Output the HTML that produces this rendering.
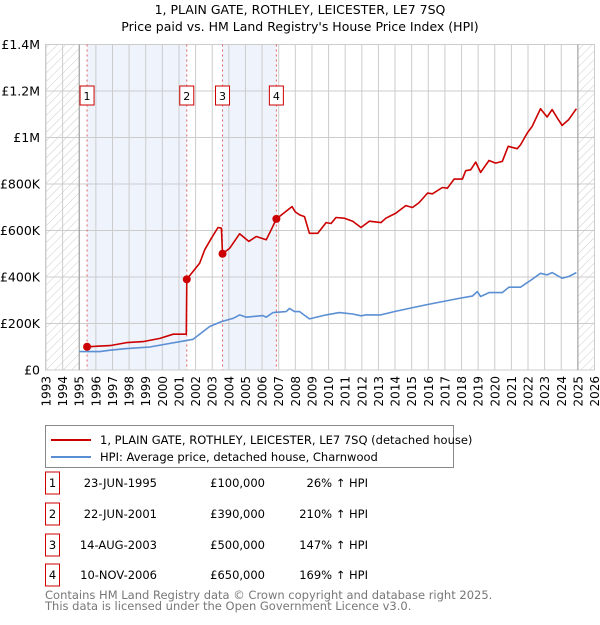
<!DOCTYPE html>
<html><head><meta charset="utf-8"><style>
body{margin:0;background:#fff;font-family:"Liberation Sans","DejaVu Sans",sans-serif;}
svg text{font-family:"DejaVu Sans","Liberation Sans",sans-serif;}
</style></head><body>
<svg id="c" width="600" height="620" xmlns="http://www.w3.org/2000/svg">
<defs><pattern id="hatch" width="6" height="6" patternUnits="userSpaceOnUse" patternTransform="rotate(45)"><line x1="0" y1="0" x2="0" y2="6" stroke="#ccc" stroke-width="1"/></pattern></defs>
<text x="300" y="14" text-anchor="middle" font-size="12.5">1, PLAIN GATE, ROTHLEY, LEICESTER, LE7 7SQ</text>
<text x="300" y="31" text-anchor="middle" font-size="12.5">Price paid vs. HM Land Registry's House Price Index (HPI)</text>
<g id="plot"></g>
<g>
<rect x="45.5" y="425.5" width="408" height="42" fill="#fff" stroke="#888"/>
<line x1="51" y1="440" x2="91" y2="440" stroke="#cc0000" stroke-width="2"/>
<text x="100" y="444" font-size="11.5">1, PLAIN GATE, ROTHLEY, LEICESTER, LE7 7SQ (detached house)</text>
<line x1="51" y1="457" x2="91" y2="457" stroke="#5b8fd4" stroke-width="2"/>
<text x="100" y="461" font-size="11.5">HPI: Average price, detached house, Charnwood</text>
</g>
<g id="tbl" font-size="11.5"></g>
<text x="45" y="599" font-size="11.5" fill="#777">Contains HM Land Registry data © Crown copyright and database right 2025.</text>
<text x="45" y="610" font-size="11.5" fill="#777">This data is licensed under the Open Government Licence v3.0.</text>
</svg>
<script>
const yearTicks=[1993,1994,1995,1996,1997,1998,1999,2000,2001,2002,2003,2004,2005,2006,2007,2008,2009,2010,2011,2012,2013,2014,2015,2016,2017,2018,2019,2020,2021,2022,2023,2024,2025,2026];
const valueTicks=[0,200000,400000,600000,800000,1000000,1200000,1400000];
const valueTickLabels=["£0","£200K","£400K","£600K","£800K","£1M","£1.2M","£1.4M"];
const saleYears=[1995.47,2001.47,2003.62,2006.86];
const salePrices=[100000,390000,500000,650000];
const saleDates=["23-JUN-1995","22-JUN-2001","14-AUG-2003","10-NOV-2006"];
const salePriceLabels=["£100,000","£390,000","£500,000","£650,000"];
const saleHpi=["26% ↑ HPI","210% ↑ HPI","147% ↑ HPI","169% ↑ HPI"];
const redYears=[1995.47,1996.24,1996.85,1997.85,1998.85,1999.85,2000.65,2001.44,2001.47,2002.25,2002.55,2002.95,2003.35,2003.55,2003.62,2004.05,2004.65,2005.2,2005.65,2006.25,2006.55,2006.86,2007.8,2008.0,2008.26,2008.55,2008.85,2009.35,2009.85,2010.15,2010.45,2010.95,2011.45,2011.95,2012.45,2013.15,2013.45,2014.05,2014.65,2015.05,2015.45,2015.95,2016.25,2016.85,2017.15,2017.55,2018.05,2018.25,2018.55,2018.85,2019.15,2019.65,2020.05,2020.45,2020.81,2021.35,2021.55,2021.95,2022.25,2022.75,2023.15,2023.45,2023.75,2024.05,2024.45,2024.91];
const redValues=[100000,103000,105000,118000,122000,136000,154000,154000,390000,460000,517000,567000,613000,610000,500000,524000,586000,553000,574000,560000,603000,650000,703000,680000,667000,660000,588000,588000,634000,630000,656000,653000,640000,613000,640000,634000,653000,675000,707000,699000,720000,761000,758000,785000,782000,821000,821000,857000,861000,894000,850000,901000,890000,897000,962000,952000,968000,1019000,1048000,1124000,1088000,1120000,1085000,1052000,1077000,1124000];
const blueYears=[1995.0,1996.25,1996.85,1997.85,1999.25,2000.25,2001.3,2001.85,2002.85,2003.55,2004.25,2004.65,2005.05,2006.05,2006.25,2006.65,2007.45,2007.65,2007.95,2008.26,2008.85,2009.85,2010.65,2011.45,2011.95,2012.25,2013.15,2013.95,2014.85,2015.85,2016.85,2017.85,2018.65,2018.95,2019.15,2019.65,2020.45,2020.85,2021.55,2022.05,2022.75,2023.15,2023.45,2024.05,2024.45,2024.91];
const blueValues=[79000,79000,85000,92000,99000,112000,125000,132000,187000,208000,222000,237000,227000,234000,227000,247000,251000,265000,251000,251000,220000,237000,247000,241000,233000,237000,237000,251000,265000,280000,294000,308000,318000,337000,316000,333000,333000,356000,356000,380000,416000,409000,419000,395000,402000,419000];

const L=45.5,R=594.5,T=44.5,B=370;
const x=y=>46+(y-1993)*(R-46)/33;
const yv=v=>B-v*(B-T)/1400000;
const NS="http://www.w3.org/2000/svg";
function mk(p,tag,at){const e=document.createElementNS(NS,tag);for(const k in at)e.setAttribute(k,at[k]);p.appendChild(e);return e;}
const plot=document.getElementById('plot');
// hatched areas
let h1=mk(plot,'rect',{x:L,y:T,width:x(1995)-L,height:B-T,fill:'url(#hatch)'});


let h2=mk(plot,'rect',{x:x(2025.0),y:T,width:R-x(2025.0),height:B-T,fill:'url(#hatch)'});


// shaded bands
let b1=mk(plot,'rect',{x:x(saleYears[0]),y:T,width:x(saleYears[1])-x(saleYears[0]),height:B-T,fill:'#eef3fc'});


let b2=mk(plot,'rect',{x:x(saleYears[2]),y:T,width:x(saleYears[3])-x(saleYears[2]),height:B-T,fill:'#eef3fc'});


// grid
yearTicks.forEach(yr=>{let l=mk(plot,'line',{x1:x(yr),x2:x(yr),y1:T,y2:B,stroke:'#ccc','stroke-width':1});


let t=mk(plot,'text',{x:x(yr)+4.5,y:376,'font-size':12,'text-anchor':'end',transform:`rotate(-90 ${x(yr)+4.5} 376)`});t.textContent=yr;

});
valueTicks.forEach((v,i)=>{let l=mk(plot,'line',{x1:L,x2:R,y1:yv(v),y2:yv(v),stroke:'#ccc','stroke-width':1});


let t=mk(plot,'text',{x:40,y:yv(v)+4.5,'font-size':12.5,'text-anchor':'end'});t.textContent=valueTickLabels[i];

});
mk(plot,'rect',{x:L,y:T,width:R-L,height:B-T,fill:'none',stroke:'#ccc'});
mk(plot,'line',{x1:x(1995),x2:x(1995),y1:T,y2:B,stroke:'#999'});
mk(plot,'line',{x1:x(2025),x2:x(2025),y1:T,y2:B,stroke:'#999'});
// sale lines & boxes
saleYears.forEach((s,i)=>{let l=mk(plot,'line',{x1:x(s),x2:x(s),y1:T,y2:B,stroke:'#e06060','stroke-dasharray':'2,3'});


let r=mk(plot,'rect',{x:x(s)-7,y:86,width:14,height:19,fill:'#fff',stroke:'#cc0000'});


let t=mk(plot,'text',{x:x(s),y:100,'font-size':11,'text-anchor':'middle'});t.textContent=i+1;

});
function line(xs,vs,col,name){let d=xs.map((a,i)=>(i?'L':'M')+x(a).toFixed(1)+','+yv(vs[i]).toFixed(1)).join('');
let p=mk(plot,'path',{d:d,fill:'none',stroke:col,'stroke-width':1.6,'stroke-linejoin':'round'});

}
line(blueYears,blueValues,'#5b8fd4','hpi-line');
line(redYears,redValues,'#cc0000','property-price-line');
saleYears.forEach((s,i)=>{let c=mk(plot,'circle',{cx:x(s),cy:yv(salePrices[i]),r:4,fill:'#cc0000'});

});
// table
const tbl=document.getElementById('tbl');
const rowY=[483,514,545,575];
saleDates.forEach((d,i)=>{const cy=rowY[i];
let r=mk(tbl,'rect',{x:45.5,y:cy-11,width:14,height:22,fill:'#fff',stroke:'#cc0000'});


let t0=mk(tbl,'text',{x:52.5,y:cy+4,'text-anchor':'middle'});t0.textContent=i+1;


let t1=mk(tbl,'text',{x:157,y:cy+4,'text-anchor':'end'});t1.textContent=d;


let t2=mk(tbl,'text',{x:265,y:cy+4,'text-anchor':'end'});t2.textContent=salePriceLabels[i];


let t3=mk(tbl,'text',{x:368,y:cy+4,'text-anchor':'end'});t3.textContent=saleHpi[i];

});
</script>
</body></html>
